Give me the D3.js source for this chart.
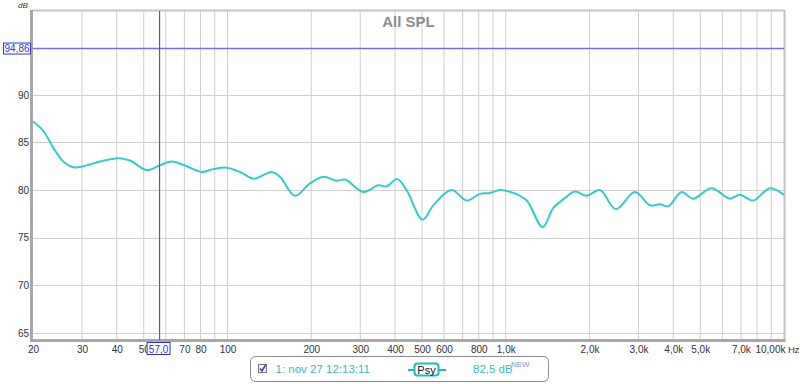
<!DOCTYPE html>
<html>
<head>
<meta charset="utf-8">
<script src="https://cdn.jsdelivr.net/npm/d3@7"></script>
<style>
  body { margin: 0; background: #fff; }
  svg { font-family: "Liberation Sans", Arial, sans-serif; }
</style>
</head>
<body>
<div class="container_main"></div>
<script>
const freqs = [20, 21.8, 23.7, 25.7, 27.9, 30.3, 34.8, 40.5, 44.6, 51.2, 57.2, 63, 71.3, 80.8, 88.9, 99.3,
  110.9, 123.8, 130.9, 144.1, 154.4, 174.8, 197.9, 220.9, 246.8, 264.4, 307.6, 348.2, 373.2, 407.5,
  440.3, 502.6, 548.9, 638.9, 723.6, 807.7, 877.5, 953, 1064, 1189, 1357, 1481, 1631, 1773, 1953,
  2180, 2487, 2912, 3297, 3581, 3836, 4285, 4717, 5492, 6389, 6941, 7751, 8899, 10000];
const spl = [87.2, 86.2, 84.4, 83.0, 82.4, 82.5, 83.0, 83.35, 83.1, 82.1, 82.6, 83.0, 82.5, 81.9, 82.2, 82.35,
  81.9, 81.2, 81.4, 81.9, 81.4, 79.4, 80.7, 81.4, 80.97, 81.1, 79.8, 80.5, 80.4, 81.15,
  80.0, 76.9, 78.4, 80.0, 78.9, 79.6, 79.7, 80.0, 79.7, 78.9, 76.1, 78.1, 79.15, 79.85, 79.4,
  80.0, 78.0, 79.8, 78.4, 78.5, 78.3, 79.8, 79.1, 80.2, 79.1, 79.5, 78.9, 80.2, 79.5];

const xTicks = [20, 30, 40, 50, 70, 80, 100, 200, 300, 400, 500, 600, 800, 1000, 2000, 3000, 4000, 5000, 7000, 10000];
const xTickLabels = ["20", "30", "40", "50", "70", "80", "100", "200", "300", "400", "500", "600", "800", "1,0k",
  "2,0k", "3,0k", "4,0k", "5,0k", "7,0k", "10,00k"];
const xGrid = [30, 40, 50, 60, 70, 80, 90, 100, 200, 300, 400, 500, 600, 700, 800, 900, 1000,
  2000, 3000, 4000, 5000, 6000, 7000, 8000, 9000];
const yTicks = [65, 70, 75, 80, 85, 90];

const cursorFreq = 57.0;
const cursorDb = 94.86;

const svgwidth = 800, svgheight = 384;
const margin = {top: 11, right: 16, bottom: 44, left: 33};
const w = svgwidth - margin.left - margin.right;
const h = svgheight - margin.top - margin.bottom;

const svg = d3.select(".container_main").append("svg")
  .attr("width", svgwidth).attr("height", svgheight);
const g = svg.append("g").attr("transform", "translate(" + margin.left + "," + margin.top + ")");

const posX = d3.scaleLog().domain([20, 10000]).range([0, w]);
const posY = d3.scaleLinear().domain([64.26, 98.8]).range([h, 0]);

// grid
g.selectAll(".vgrid").data(xGrid).enter().append("line")
  .attr("x1", d => posX(d)).attr("x2", d => posX(d))
  .attr("y1", 0).attr("y2", h)
  .attr("stroke", "#cfcfcf").attr("stroke-width", 1);
g.selectAll(".hgrid").data(yTicks).enter().append("line")
  .attr("x1", 0).attr("x2", w)
  .attr("y1", d => Math.round(posY(d)) + 0.5).attr("y2", d => Math.round(posY(d)) + 0.5)
  .attr("stroke", "#cfcfcf").attr("stroke-width", 1);

// frame
g.append("line").attr("x1", 0).attr("x2", w).attr("y1", -0.5).attr("y2", -0.5)
  .attr("stroke", "#c4c4c4").attr("stroke-width", 2);
g.append("line").attr("x1", w + 0.5).attr("x2", w + 0.5).attr("y1", -1).attr("y2", h)
  .attr("stroke", "#c4c4c4").attr("stroke-width", 2);
g.append("line").attr("x1", -1.5).attr("x2", -1.5).attr("y1", -1).attr("y2", h + 1)
  .attr("stroke", "#a8a8a8").attr("stroke-width", 3);
g.append("line").attr("x1", -3).attr("x2", w + 1.5).attr("y1", h + 0.5).attr("y2", h + 0.5)
  .attr("stroke", "#a8a8a8").attr("stroke-width", 3);

// title
g.append("text").attr("x", w / 2).attr("y", 16)
  .attr("text-anchor", "middle").attr("font-size", 15).attr("font-weight", "bold")
  .attr("fill", "#8c8c8c").text("All SPL");

// axes labels
const xAxis = d3.axisBottom(posX).tickValues(xTicks)
  .tickFormat((d, i) => xTickLabels[i]).tickSize(0).tickPadding(6);
const gx = g.append("g").attr("transform", "translate(0," + h + ")").call(xAxis);
gx.select(".domain").remove();
gx.selectAll("text").attr("font-size", 10).attr("fill", "#333")
  .attr("font-family", "'Liberation Sans', Arial, sans-serif");
gx.selectAll(".tick").filter(d => d === 10000).select("text").attr("text-anchor", "end").attr("dx", 1);

const yAxis = d3.axisLeft(posY).tickValues(yTicks).tickSize(0).tickPadding(4);
const gy = g.append("g").call(yAxis);
gy.select(".domain").remove();
gy.selectAll("text").attr("font-size", 10).attr("fill", "#333")
  .attr("font-family", "'Liberation Sans', Arial, sans-serif");

svg.append("text").attr("x", 788).attr("y", 353).attr("font-size", 9.5).attr("fill", "#333").text("Hz");
svg.append("text").attr("x", 18).attr("y", 8).attr("font-size", 8).attr("font-style", "italic")
  .attr("fill", "#333").text("dB");

// response curve
const line = d3.line()
  .x((d, i) => posX(freqs[i]))
  .y(d => posY(d))
  .curve(d3.curveCatmullRom.alpha(0.5));
g.append("path").datum(spl)
  .attr("d", line)
  .attr("fill", "none").attr("stroke", "#33cccc").attr("stroke-width", 2);

// cursors
g.append("line").attr("x1", 0).attr("x2", w)
  .attr("y1", posY(cursorDb)).attr("y2", posY(cursorDb))
  .attr("stroke", "#7070e0").attr("stroke-width", 1.5);
g.append("line").attr("x1", posX(cursorFreq)).attr("x2", posX(cursorFreq))
  .attr("y1", 0).attr("y2", h)
  .attr("stroke", "#5555cc").attr("stroke-width", 1.2);

const cy = margin.top + posY(cursorDb);
svg.append("rect").attr("x", 3.5).attr("y", cy - 5.5).attr("width", 27).attr("height", 11)
  .attr("fill", "#fff").attr("stroke", "#3333cc");
svg.append("text").attr("x", 17).attr("y", cy + 3.5).attr("text-anchor", "middle")
  .attr("font-size", 10).attr("fill", "#3333cc").text("94,86");

const cx = margin.left + posX(cursorFreq);
svg.append("rect").attr("x", cx - 12.5).attr("y", 342.5).attr("width", 23).attr("height", 12)
  .attr("fill", "#fff").attr("stroke", "#3333cc");
svg.append("text").attr("x", cx - 1).attr("y", 352.5).attr("text-anchor", "middle")
  .attr("font-size", 10).attr("fill", "#3333cc").text("57,0");

// legend
const lg = svg.append("g");
lg.append("rect").attr("x", 250.5).attr("y", 356.5).attr("width", 298).attr("height", 25).attr("rx", 5)
  .attr("fill", "#fff").attr("stroke", "#8a8a8a");
lg.append("rect").attr("x", 258.5).attr("y", 364.5).attr("width", 8).attr("height", 8)
  .attr("fill", "#eef").attr("stroke", "#777");
lg.append("path").attr("d", "M260,368.5 L262,371 L265.5,365").attr("fill", "none")
  .attr("stroke", "#3344aa").attr("stroke-width", 1.5);
lg.append("text").attr("x", 275.5).attr("y", 373).attr("font-size", 11.5).attr("fill", "#3bb8c0")
  .text("1: nov 27 12:13:11");
lg.append("line").attr("x1", 408).attr("x2", 446).attr("y1", 370).attr("y2", 370)
  .attr("stroke", "#22bbbb").attr("stroke-width", 2);
lg.append("rect").attr("x", 414.5).attr("y", 363.5).attr("width", 24).attr("height", 12).attr("rx", 3)
  .attr("fill", "#fff").attr("stroke", "#22bbbb").attr("stroke-width", 2);
lg.append("text").attr("x", 426.5).attr("y", 373.5).attr("text-anchor", "middle")
  .attr("font-size", 11).attr("fill", "#111").text("Psy");
lg.append("text").attr("x", 473).attr("y", 373).attr("font-size", 11.5).attr("fill", "#3bb8c0")
  .text("82,5 dB");
lg.append("text").attr("x", 511).attr("y", 367).attr("font-size", 8).attr("fill", "#8888ee")
  .text("NEW");
</script>
</body>
</html>
